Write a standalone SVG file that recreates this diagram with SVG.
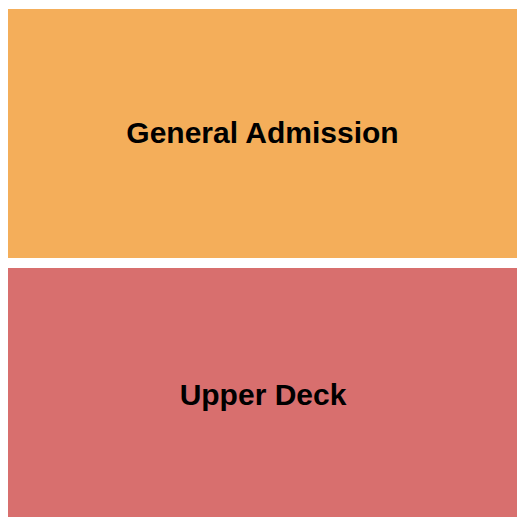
<svg xmlns="http://www.w3.org/2000/svg" width="525" height="525" viewBox="0 0 525 525">
<style>
.lbl{font-family:"Liberation Sans",Arial,sans-serif;font-weight:bold;font-size:30px;fill:#000;text-anchor:middle}
</style>
<rect width="525" height="525" fill="#fff"/>
<g id="general-admission">
<rect x="8" y="9" width="509" height="249" fill="#F4AE5A"/>
<text class="lbl" x="262.5" y="143">General Admission</text>
</g>
<g id="upper-deck">
<rect x="8" y="268" width="509" height="249" fill="#D86F6E"/>
<text class="lbl" x="263" y="405">Upper Deck</text>
</g>
<g id="connectors"/>
</svg>
